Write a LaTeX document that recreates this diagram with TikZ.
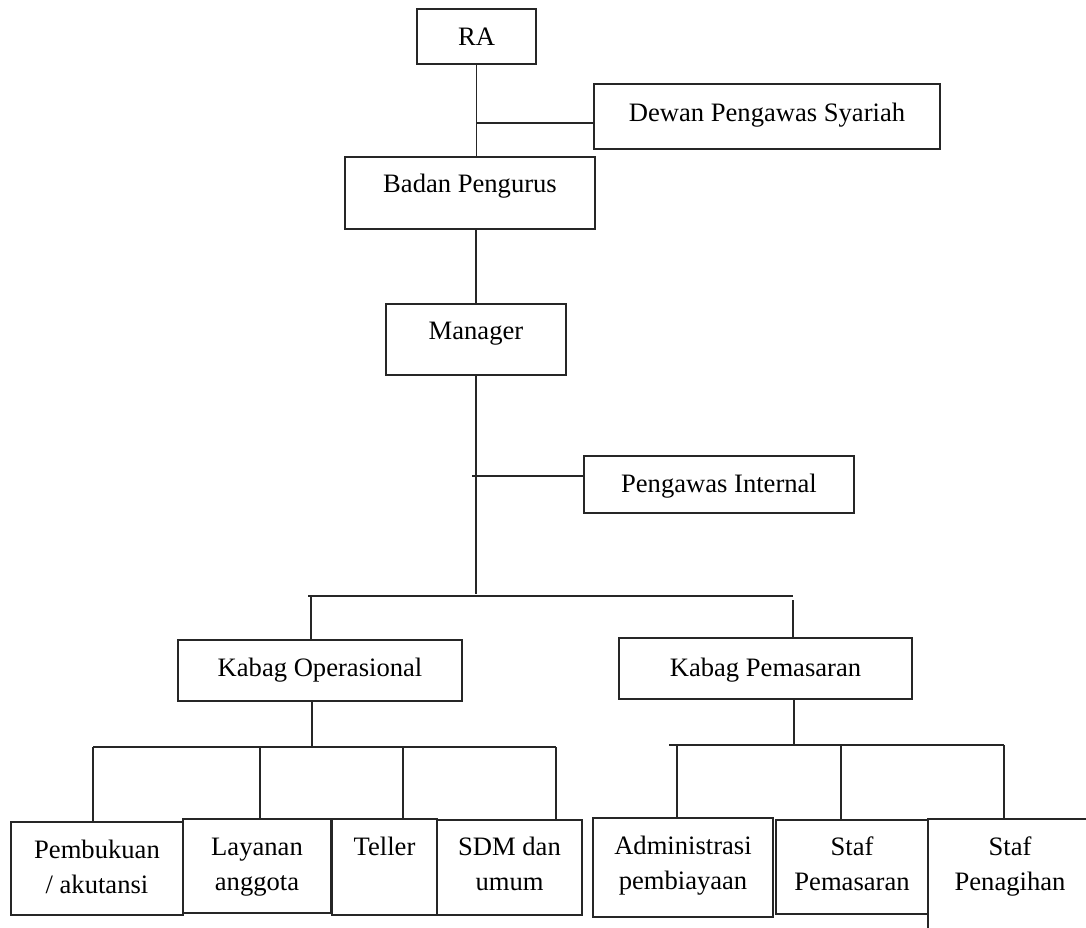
\documentclass[tikz,border=0pt]{standalone}
\usepackage{fontspec}
\setmainfont{Liberation Serif}
\usepackage{tikz}
\usetikzlibrary{positioning, calc}

\begin{document}
\begin{tikzpicture}[x=1pt, y=-1pt,
  box/.style={draw=black!85, line width=1.3pt, inner sep=0pt},
  lbl/.style={anchor=north, inner sep=0pt, align=center, font=\fontsize{26.6}{35}\selectfont},
  link/.style={draw=black!85, line width=1.3pt}]
  \useasboundingbox (0,0) rectangle (1086,927);
  \clip (0,0) rectangle (1086,927);
  % Top level boxes
  \node[box, minimum width=119pt, minimum height=55pt] (ra) at (476.5, 36.5) {};
  \node[box, minimum width=346pt, minimum height=65pt] (dewan) at (767, 116.5) {};
  \node[box, minimum width=250pt, minimum height=72pt] (badan) at (470, 193) {};
  \node[box, minimum width=180pt, minimum height=71pt] (manager) at (476, 339.5) {};
  \node[box, minimum width=270pt, minimum height=57pt] (pi) at (719, 484.5) {};
  % Kabag boxes
  \node[box, minimum width=284pt, minimum height=61pt] (kop) at (320, 670.5) {};
  \node[box, minimum width=293pt, minimum height=61pt] (kpm) at (765.5, 668.5) {};
  % Staff boxes
  \node[box, minimum width=172pt, minimum height=93pt] (pmb) at (97, 868.5) {};
  \node[box, minimum width=148pt, minimum height=94pt] (lyn) at (257, 866) {};
  \node[box, minimum width=105pt, minimum height=96pt] (tel) at (384.5, 867) {};
  \node[box, minimum width=145pt, minimum height=95pt] (sdm) at (509.5, 867.5) {};
  \node[box, minimum width=180pt, minimum height=99pt] (adm) at (683, 867.5) {};
  \node[box, minimum width=152pt, minimum height=94pt] (stp) at (852, 867) {};
  \node[box, minimum width=164pt, minimum height=116pt] (pen) at (1010, 877) {};
  % Labels
  \node[lbl] (ra-t) at ([yshift=-19pt]ra.north) {RA};
  \node[lbl] (dewan-t) at ([yshift=-19pt]dewan.north) {Dewan Pengawas Syariah};
  \node[lbl] (badan-t) at ([yshift=-17pt]badan.north) {Badan Pengurus};
  \node[lbl] (manager-t) at ([yshift=-19pt]manager.north) {Manager};
  \node[lbl] (pi-t) at ([yshift=-18pt]pi.north) {Pengawas Internal};
  \node[lbl] (kop-t) at ([yshift=-18pt]kop.north) {Kabag Operasional};
  \node[lbl] (kpm-t) at ([yshift=-20pt]kpm.north) {Kabag Pemasaran};
  \node[lbl] (pmb-t) at ([yshift=-18pt]pmb.north) {Pembukuan\\/ akutansi};
  \node[lbl] (lyn-t) at ([yshift=-20pt]lyn.north) {Layanan\\anggota};
  \node[lbl] (tel-t) at ([yshift=-18pt]tel.north) {Teller};
  \node[lbl] (sdm-t) at ([yshift=-17pt]sdm.north) {SDM dan\\umum};
  \node[lbl] (adm-t) at ([yshift=-18pt]adm.north) {Administrasi\\pembiayaan};
  \node[lbl] (stp-t) at ([yshift=-17pt]stp.north) {Staf\\Pemasaran};
  \node[lbl] (pen-t) at ([yshift=-18pt]pen.north) {Staf\\Penagihan};
  % Junctions
  \coordinate (jdw) at (476, 123);
  \coordinate (jm) at (476, 594);
  \coordinate (jpi) at (472, 476);
  \coordinate (bl) at (308, 596);
  \coordinate (br) at (793, 596);
  \coordinate (dk) at (311, 596);
  \coordinate (dp) at (793, 600);
  \coordinate (ko) at (312, 747);
  \coordinate (kp) at (794, 745);
  % Upper connectors
  \draw[link] (ra.south) -- (ra.south |- badan.north);
  \draw[link] (dewan.west |- jdw) -- (jdw);
  \draw[link] (manager.north |- badan.south) -- (manager.north);
  \draw[link] (manager.south) -- (jm);
  \draw[link] (jpi) -- (jpi -| pi.west);
  \draw[link] (bl) -- (br);
  \draw[link] (dk) -- (dk |- kop.north);
  \draw[link] (dp) -- (dp |- kpm.north);
  % Operasional branch
  \draw[link] (ko |- kop.south) -- (ko);
  \draw[link] (93, 747) -- (556, 747);
  \foreach \x/\b in {93/pmb, 260/lyn, 403/tel, 556/sdm} {
    \coordinate (t) at (\x, 747);
    \draw[link] (t) -- (t |- \b.north);
  }
  % Pemasaran branch
  \draw[link] (kp |- kpm.south) -- (kp);
  \draw[link] (669, 745) -- (1004, 745);
  \foreach \x/\b in {677/adm, 841/stp, 1004/pen} {
    \coordinate (t) at (\x, 745);
    \draw[link] (t) -- (t |- \b.north);
  }
\end{tikzpicture}
\end{document}
